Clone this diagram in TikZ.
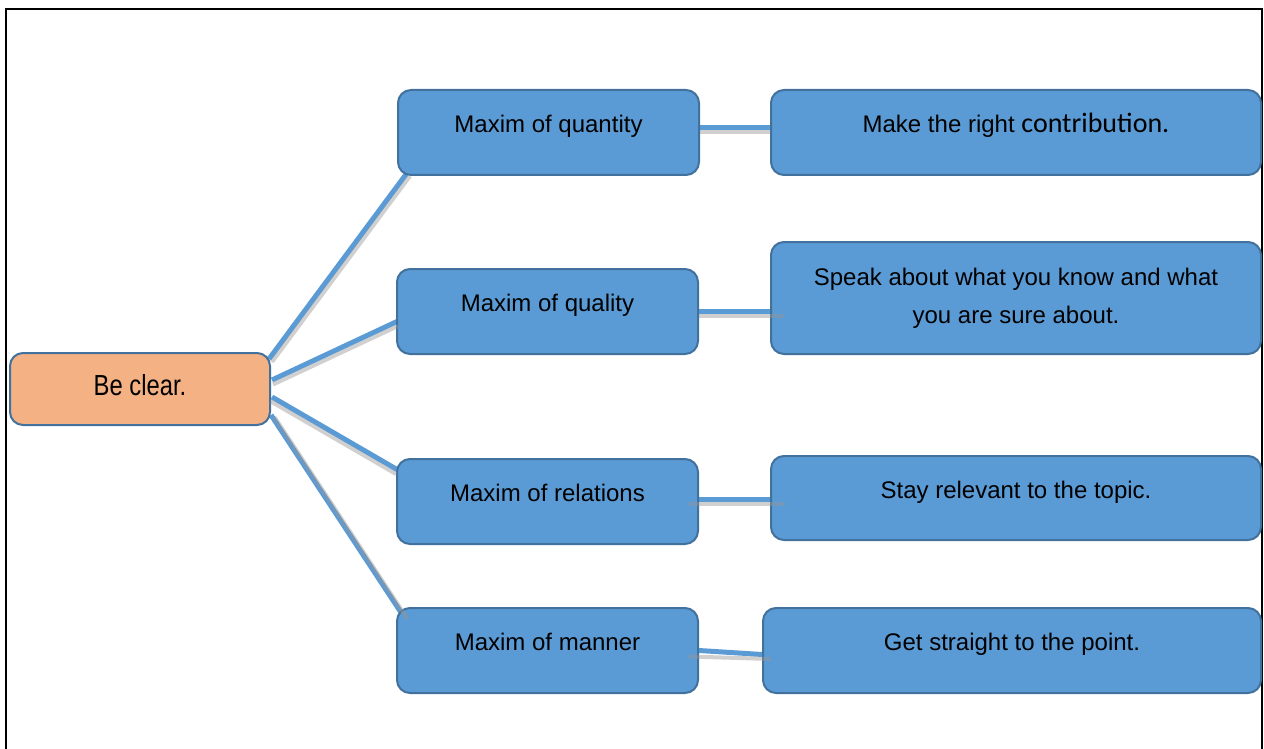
\documentclass[tikz,border=0pt]{standalone}
\usepackage{fontspec}
\setmainfont{Liberation Sans}
\newfontfamily\calib{Carlito}
\newfontfamily\bcfont[FakeStretch=0.82]{Liberation Sans}
\usetikzlibrary{backgrounds}
\definecolor{boxblue}{RGB}{91,155,213}
\definecolor{boxedge}{RGB}{65,113,156}
\definecolor{boxorange}{RGB}{244,177,131}
\definecolor{shadegray}{RGB}{150,150,150}
\begin{document}
\begin{tikzpicture}[x=1pt,y=-1pt,
  box/.style={draw=boxedge, line width=2pt, rounded corners=13pt, fill=boxblue,
    inner sep=0pt, text=black, font=\fontsize{24}{38}\selectfont, align=center},
  oneline/.style={text height=12pt, text depth=12pt},
  link/.style={draw=boxblue, line width=5pt},
  linkshade/.style={draw=shadegray, line width=4pt, opacity=0.45},
  frameline/.style={draw=black, line width=2pt}]
\useasboundingbox (0,0) rectangle (1264,749);
\draw[frameline] (6,760) -- (6,9) -- (1262,9) -- (1262,760);

% nodes
\node[box, oneline, fill=boxorange, minimum width=260pt, minimum height=72pt,
  text height=20pt, text depth=8pt] (bc) at (140,389)
  {\bcfont\fontsize{29}{34}\selectfont Be clear.};
\node[box, oneline, minimum width=301pt, minimum height=85pt] (q1) at (548.5,132.5) {Maxim of quantity};
\node[box, oneline, minimum width=301pt, minimum height=85pt] (q2) at (547.5,311.5) {Maxim of quality};
\node[box, oneline, minimum width=301pt, minimum height=85pt] (q3) at (547.5,501.5) {Maxim of relations};
\node[box, oneline, minimum width=301pt, minimum height=85pt] (q4) at (547.5,650.5) {Maxim of manner};
\node[box, oneline, minimum width=490pt, minimum height=85pt] (d1) at (1016,132.5)
  {Make the right {\calib\fontsize{28}{38}\selectfont contribution.}};
\node[box, minimum width=490pt, minimum height=112pt] (d2) at (1016,298)
  {Speak about what you know and what\\you are sure about.};
\node[box, oneline, minimum width=490pt, minimum height=84pt] (d3) at (1016,498) {Stay relevant to the topic.};
\node[box, oneline, minimum width=498pt, minimum height=85pt] (d4) at (1012,650.5) {Get straight to the point.};

% connector end points
\coordinate (a1) at ([xshift=-2pt,yshift=-7pt]bc.north east);
\coordinate (b1) at ([xshift=10pt,yshift=3pt]q1.south west);
\coordinate (a2) at ([xshift=1pt,yshift=9pt]bc.east);
\coordinate (b2) at ([xshift=1pt,yshift=-10pt]q2.west);
\coordinate (a3) at ([xshift=1pt,yshift=-8pt]bc.east);
\coordinate (b3) at ([xshift=1pt,yshift=32pt]q3.west);
\coordinate (a4) at ([yshift=11pt]bc.south east);
\coordinate (b4) at ([xshift=8pt,yshift=-10pt]q4.north west);

% blue connectors behind the boxes
\begin{pgfonlayer}{background}
\draw[link] (a1) -- (b1);
\draw[link] (a2) -- (b2);
\draw[link] (a3) -- (b3);
\draw[link] (a4) -- (b4);
\draw[link] ([yshift=5pt]q1.east) -- ([yshift=5pt]d1.west);
\draw[link] (q2.east) -- (d2.west |- q2.east);
\draw[link] ([yshift=2.5pt]q3.east) -- ([yshift=-1pt]d3.west);
\draw[link] (q4.east) -- ([yshift=-4pt]d4.west);
\end{pgfonlayer}

% grey shadows
\draw[linkshade] ([xshift=3pt,yshift=-3pt]a1) -- ([xshift=3pt,yshift=-3pt]b1);
\draw[linkshade] ([xshift=1pt,yshift=-4.5pt]a2) -- ([xshift=1pt,yshift=-4.5pt]b2);
\draw[linkshade] ([xshift=-1pt,yshift=-4.5pt]a3) -- ([xshift=-1pt,yshift=-4.5pt]b3);
\draw[linkshade] ([xshift=3.5pt,yshift=-2pt]a4) -- ([xshift=3.5pt,yshift=-2pt]b4);
\draw[linkshade] ([yshift=0.5pt]q1.east) -- ([yshift=0.5pt]d1.west);
\draw[linkshade] ([yshift=-4.5pt]q2.east) -- ([xshift=14pt,yshift=-4.5pt]d2.west |- q2.east);
\draw[linkshade] ([xshift=-10pt,yshift=-2.5pt]q3.east) -- ([xshift=15pt,yshift=-6pt]d3.west);
\draw[linkshade] ([xshift=-10pt,yshift=-6pt]q4.east) -- ([xshift=9pt,yshift=-8.5pt]d4.west);
\end{tikzpicture}
\end{document}
